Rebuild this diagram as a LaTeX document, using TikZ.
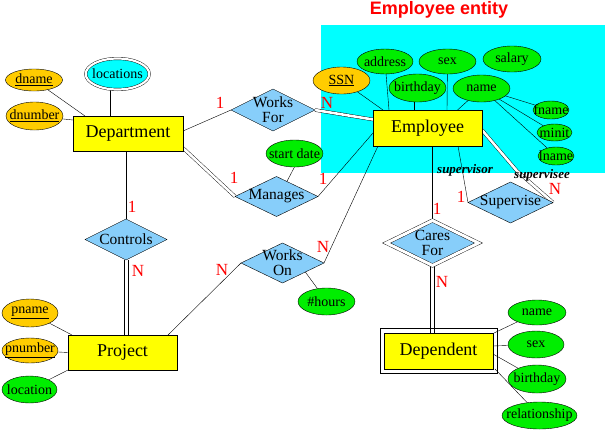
\documentclass[tikz,border=0pt]{standalone}
\usepackage{fontspec}
\setmainfont{Liberation Serif}
\newfontfamily\myttlfamily{Liberation Sans}
\usetikzlibrary{shapes.geometric,calc}
\pgfdeclarelayer{bgzero}
\pgfdeclarelayer{bgone}
\pgfsetlayers{bgzero,bgone,main}
\definecolor{keygold}{HTML}{FFCC00}
\definecolor{attrgreen}{HTML}{00EE00}
\definecolor{relblue}{HTML}{87CEFA}
\definecolor{entyellow}{HTML}{FFFF00}
\definecolor{bgcyan}{HTML}{00FFFF}
\newcommand\myentfont{\fontsize{18}{20}\selectfont}
\newcommand\myattfont{\fontsize{14}{15}\selectfont}
\newcommand\myrelfont{\fontsize{15.5}{15}\selectfont}
\newcommand\mycardfont{\fontsize{17}{19}\selectfont}
\newcommand\myrolefont{\fontsize{13}{15}\selectfont\bfseries\itshape}
\begin{document}
\begin{tikzpicture}[x=1pt,y=-1pt,line width=1pt,
  entity/.style={rectangle,draw,fill=entyellow,inner sep=0pt,outer sep=0pt,font=\myentfont},
  attr/.style={ellipse,draw,fill=attrgreen,inner sep=0pt,outer sep=0pt,minimum width=57pt,minimum height=27pt},
  keyattr/.style={attr,fill=keygold},
  rel/.style={diamond,draw,fill=relblue,inner sep=0pt,outer sep=0pt},
  atxt/.style={font=\myattfont,inner sep=0pt},
  rtxt/.style={font=\myrelfont,align=center,inner sep=0pt},
  card/.style={text=red,font=\mycardfont,inner sep=0pt},
  role/.style={font=\myrolefont,inner sep=0pt},
  dbl/.style={double=white,double distance=2.6pt},
  lft/.style={transform canvas={xshift=-2pt}},
  rgt/.style={transform canvas={xshift=2pt}},
  ttl/.style={text=red,font=\myttlfamily\bfseries\fontsize{18}{20}\selectfont,inner sep=0pt}]
\useasboundingbox (0,0) rectangle (605,429);
\begin{pgfonlayer}{bgzero}
  \fill[bgcyan] (321,25) rectangle (605,172.5);
\end{pgfonlayer}

\node[ttl] (title) at (439,10) {Employee entity};

% entities
\node[entity,minimum width=110pt,minimum height=35pt] (dept) at (128,133.5) {Department};
\node[entity,minimum width=109pt,minimum height=36pt] (emp) at (427.5,128) {Employee};
\node[entity,minimum width=109pt,minimum height=35pt] (proj) at (122.5,352.5) {Project};
\node[entity,minimum width=109pt,minimum height=36pt] (dep) at (438.5,351) {Dependent};

% relationships
\node[rel,minimum width=84pt,minimum height=42pt,label={[rtxt]center:Works\\For}] (wf) at (273,110) {};
\node[rel,minimum width=83pt,minimum height=40pt,label={[rtxt]center:Manages}] (man) at (276.5,196.5) {};
\node[rel,minimum width=85pt,minimum height=41pt,label={[rtxt]center:Supervise}] (sup) at (510.5,202.5) {};
\node[rel,dbl,double distance=3pt,minimum width=92pt,minimum height=45pt,label={[rtxt]center:Cares\\For}] (cf) at (432.5,243) {};
\node[rel,minimum width=82pt,minimum height=41pt,label={[rtxt]center:Controls}] (ctrl) at (126,239.5) {};
\node[rel,minimum width=83pt,minimum height=40pt,label={[rtxt]center:Works\\On}] (wo) at (282.5,263) {};

% department attributes
\node[keyattr,minimum width=57pt,minimum height=22pt,label={[atxt]center:{\underline{dname}}}] (dname) at (34,80) {};
\node[keyattr,minimum width=57pt,minimum height=28pt,label={[atxt]center:{\underline{dnumber}}}] (dnum) at (34.5,116) {};
\node[attr,fill=bgcyan,dbl,double distance=2.2pt,minimum width=63.5pt,minimum height=31pt,label={[atxt]center:locations}] (loc) at (117.5,74) {};

% employee attributes
\node[keyattr,label={[atxt]center:{\underline{SSN}}}] (ssn) at (341.5,80.5) {};
\node[attr,minimum width=56pt,minimum height=25pt,label={[atxt]center:address}] (addr) at (385,61.5) {};
\node[attr,minimum height=25pt,label={[atxt]center:sex}] (sex) at (447.5,61.5) {};
\node[attr,minimum width=58pt,minimum height=26pt,label={[atxt]center:salary}] (sal) at (512,59) {};
\node[attr,minimum height=28pt,label={[atxt]center:birthday}] (bday) at (417.5,88) {};
\node[attr,label={[atxt]center:name}] (name) at (481.5,88.5) {};
\node[attr,minimum width=36pt,minimum height=18pt,label={[atxt]center:fname}] (fname) at (551,110) {};
\node[attr,minimum width=35pt,minimum height=17pt,label={[atxt]center:minit}] (minit) at (554.5,132.5) {};
\node[attr,minimum width=36pt,minimum height=18pt,label={[atxt]center:lname}] (lname) at (556,156) {};

% relationship attributes
\node[attr,label={[atxt]center:start date}] (sd) at (294.5,153.5) {};
\node[attr,label={[atxt]center:\#hours}] (hours) at (326.5,301.5) {};

% project attributes
\node[keyattr,minimum width=56pt,minimum height=28pt,label={[atxt]center:{\underline{pname}}}] (pname) at (30,313) {};
\node[keyattr,minimum width=56pt,minimum height=25pt,label={[atxt]center:{\underline{pnumber}}}] (pnum) at (30,350.5) {};
\node[attr,minimum width=55pt,label={[atxt]center:location}] (ploc) at (29.5,389.5) {};

% dependent attributes
\node[attr,minimum width=58pt,minimum height=25pt,label={[atxt]center:name}] (dname2) at (537,312.5) {};
\node[attr,minimum width=56pt,label={[atxt]center:sex}] (dsex) at (536,344.5) {};
\node[attr,minimum width=58pt,minimum height=28pt,label={[atxt]center:birthday}] (dbday) at (537,379) {};
\node[attr,minimum width=75pt,label={[atxt]center:relationship}] (drel) at (539.5,415.5) {};

% connectors
\coordinate (sbend) at (517,171);
\begin{pgfonlayer}{bgone}
  % weak-entity outer frame of Dependent
  \draw[fill=white] ([shift={(-3.5pt,4.5pt)}]dep.north west) rectangle ([shift={(4.5pt,-4pt)}]dep.south east);
  \draw (dname) -- ([xshift=12pt]dept.north west);
  \draw (dnum) -- ([yshift=-4pt]dept.north west);
  \draw ([xshift=-7pt]loc.south) -- ([xshift=-7pt]loc.south |- dept.north);
  \draw ([yshift=2.5pt]dept.east) -- (wf.west);
  \draw[dbl] ([yshift=3pt]dept.south east) -- (man.west);
  \draw[dbl] (wf.east) -- ([yshift=8.5pt]emp.west);
  \draw (man.east) -- ([yshift=-5pt]emp.west);
  \draw (wo.east) -- ([xshift=5pt]emp.south west);
  \draw (wo.west) -- ([xshift=-9pt]proj.north east);
  \draw ($(wo.south)!0.55!(wo.east)$) -- (hours.125);
  \draw (sd.south) -- ($(man.north)!0.25!(man.east)$);
  \draw (ctrl.north) -- (ctrl.north |- dept.south);
  \draw[lft] (ctrl.south) -- (ctrl.south |- proj.north);
  \draw[rgt] (ctrl.south) -- (ctrl.south |- proj.north);
  \draw ([xshift=-24pt]emp.south east) -- (sup.west);
  \draw[dbl] ([yshift=-2pt]emp.east) -- (sbend) -- (sup.east);
  \draw (cf.north) -- (cf.north |- emp.south);
  \draw[lft] ([xshift=-0.5pt]cf.south) -- ([xshift=-0.5pt]cf.south |- dep.north);
  \draw[rgt] ([xshift=-0.5pt]cf.south) -- ([xshift=-0.5pt]cf.south |- dep.north);
  \draw (ssn) -- ([xshift=10pt]emp.north west);
  \draw (addr) -- ([xshift=16pt]emp.north west);
  \draw ([xshift=-3pt]bday.south) -- ([xshift=-3pt]bday.south |- emp.north);
  \draw (sex) -- ([xshift=19.5pt]emp.north);
  \draw (name) -- ([xshift=30pt]emp.north);
  \draw (name) -- (fname);
  \draw (name) -- (minit);
  \draw (name) -- (lname);
  \draw (pname) -- ([xshift=4pt]proj.north west);
  \draw (pnum) -- (proj.west);
  \draw (ploc) -- (proj.south west);
  \draw (dname2) -- ([xshift=1pt]dep.north east);
  \draw (dsex) -- ([yshift=5pt]dep.east);
  \draw (dbday) -- ([yshift=-3pt]dep.east);
  \draw (drel) -- ([xshift=2pt]dep.south east);
\end{pgfonlayer}

% cardinalities
\node[card] (c1) at (220,103) {1};
\node[card] (c2) at (327,103) {N};
\node[card] (c3) at (234,178) {1};
\node[card] (c4) at (323,179) {1};
\node[card] (c5) at (132,207) {1};
\node[card] (c6) at (138,271) {N};
\node[card] (c7) at (222,270) {N};
\node[card] (c8) at (323,247) {N};
\node[card] (c9) at (437,209) {1};
\node[card] (c10) at (461,197) {1};
\node[card] (c11) at (555,189) {N};
\node[card] (c12) at (442,282) {N};

% roles
\node[role] (rsor) at (465,170) {supervisor};
\node[role] (rsee) at (542,175) {supervisee};
\end{tikzpicture}
\end{document}
